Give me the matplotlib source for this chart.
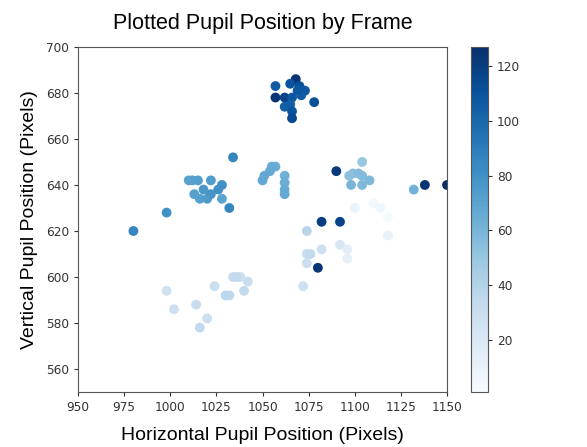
import matplotlib
matplotlib.use("Agg")
import matplotlib.pyplot as plt

# pupil position, one entry per plotted frame
x_pos = [1100, 1110, 1114, 1118, 1118,
         1092, 1096, 1096, 1082, 1074, 1074, 1076, 1074, 1072, 1042, 1038,
         998, 1002, 1014, 1020, 1016, 1024, 1034, 1036, 1030, 1032, 1040,
         1104, 1099, 1102, 1097, 1104, 1108, 1098, 1104, 1132,
         1057, 1055, 1054, 1050, 1051, 1062, 1062, 1062, 1062,
         1012, 1015, 1022, 1028, 1013, 1018, 1016, 1020, 1022, 1026, 1028, 1010,
         1034, 1032, 998, 980,
         1090, 1082, 1092, 1080, 1138, 1150,
         1068, 1065, 1070, 1073, 1057, 1057, 1062, 1066, 1071, 1062, 1065, 1066, 1066, 1078, 1069]
y_pos = [630, 632, 630, 626, 618,
         614, 612, 608, 612, 620, 610, 610, 606, 596, 598, 600,
         594, 586, 588, 582, 578, 596, 600, 600, 592, 592, 594,
         650, 645, 645, 644, 644, 642, 640, 640, 638,
         648, 648, 646, 642, 644, 644, 641, 638, 636,
         642, 642, 642, 640, 636, 638, 634, 634, 636, 638, 634, 642,
         652, 630, 628, 620,
         646, 624, 624, 604, 640, 640,
         686, 684, 683, 681, 683, 678, 678, 678, 679, 674, 675, 672, 669, 676, 681]
frame = [8, 4, 6, 3, 10,
         22, 14, 12, 28, 38, 32, 34, 30, 28, 30, 28,
         26, 28, 32, 30, 34, 30, 32, 33, 36, 36, 34,
         50, 55, 56, 54, 57, 58, 60, 58, 62,
         64, 65, 66, 68, 67, 63, 64, 65, 66,
         72, 73, 74, 80, 72, 76, 72, 74, 78, 80, 70, 71,
         86, 86, 80, 86,
         122, 120, 118, 124, 125, 127,
         125, 110, 112, 108, 106, 124, 118, 108, 106, 104, 105, 110, 115, 112, 108]

x_ticks = [950, 975, 1000, 1025, 1050, 1075, 1100, 1125, 1150]
y_ticks = [560, 580, 600, 620, 640, 660, 680, 700]
cbar_ticks = [20, 40, 60, 80, 100, 120]

fig = plt.figure(figsize=(5.87, 4.47), dpi=100)
ax = fig.add_axes([0.133, 0.123, 0.6285, 0.772])
cax = fig.add_axes([0.8025, 0.123, 0.029, 0.772])

sc = ax.scatter(x_pos, y_pos, c=frame, cmap="Blues", vmin=1, vmax=127, s=50, linewidths=0)
ax.set_xlim(950, 1150)
ax.set_ylim(550, 700)
ax.set_xticks(x_ticks)
ax.set_yticks(y_ticks)
ax.tick_params(labelsize=8.7, colors="#333333", length=3)
for s in ax.spines.values():
    s.set_color("#555555")

ax.set_title("Plotted Pupil Position by Frame", family="Liberation Sans", fontsize=15.5, pad=13)
ax.set_xlabel("Horizontal Pupil Position (Pixels)", family="Liberation Sans", fontsize=14, labelpad=9)
ax.set_ylabel("Vertical Pupil Position (Pixels)", family="Liberation Sans", fontsize=14, labelpad=6)

cb = fig.colorbar(sc, cax=cax, ticks=cbar_ticks)
cb.ax.tick_params(labelsize=8.7, colors="#333333", length=3)
cb.outline.set_edgecolor("#555555")

fig.savefig("out.png", dpi=100)
